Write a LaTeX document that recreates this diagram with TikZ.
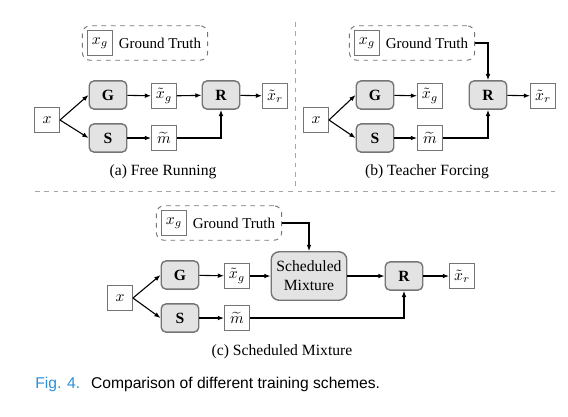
\documentclass[tikz,border=0pt]{standalone}
\usepackage{fontspec}
\setmainfont{Liberation Serif}
\setsansfont{Liberation Sans}
\usetikzlibrary{arrows.meta,positioning,fit}
\definecolor{figblue}{HTML}{2A8FD8}
\definecolor{boxgray}{HTML}{E3E3E3}
\definecolor{edgegray}{HTML}{757575}
\tikzset{
  net/.style={draw=edgegray, fill=boxgray, rounded corners=3pt, line width=0.9pt,
    minimum width=24pt, minimum height=18pt, font=\bfseries},
  var/.style={draw=edgegray, fill=white, line width=0.6pt, minimum width=16pt,
    minimum height=15.5pt, inner sep=1pt},
  gtext/.style={inner sep=1pt, font=\fontsize{9.6}{11}\selectfont},
  gtframe/.style={draw=edgegray, dashed, rounded corners=5pt, line width=0.6pt, inner sep=3pt},
  conn/.style={-{Latex[length=4pt,width=3pt]}, line width=0.7pt},
  divider/.style={draw=gray!70, dashed, line width=0.5pt}
}
\begin{document}
\begin{tikzpicture}[x=0.64pt, y=-0.64pt]
  \useasboundingbox (0,0) rectangle (568,416);
  % dividers
  \draw [divider] (35,191) -- (555,191);
  \draw [divider] (295,22) -- (295,189);

  % (a) free running
  \node[var] (xga) at (100,43) {$x_g$};
  \node[gtext, right=2.5pt of xga] (gta) {Ground Truth};
  \node[gtframe, fit=(xga)(gta)] (gtboxa) {};
  \node[var] (xa) at (47,120) {$x$};
  \node[net] (Ga) at (108,95) {G};
  \node[net] (Sa) at (108,138) {S};
  \node[var] (xgta) at (164,96) {$\tilde{x}_g$};
  \node[var] (mta) at (164,138) {$\widetilde{m}$};
  \node[net] (Ra) at (221,95) {R};
  \node[var] (xrta) at (275,96) {$\tilde{x}_r$};
  \draw [conn] (xa.east) -- (Ga.west);
  \draw [conn] (xa.east) -- (Sa.west);
  \draw [conn] (Ga) -- (xgta);
  \draw [conn] (Sa) -- (mta);
  \draw [conn] (xgta) -- (Ra);
  \draw [conn] (mta.east) -| (Ra.south);
  \draw [conn] (Ra) -- (xrta);
  \node (capa) at (163,172) {(a) Free Running};

  % (b) teacher forcing
  \node[var] (xgb) at (367,43) {$x_g$};
  \node[gtext, right=2.5pt of xgb] (gtb) {Ground Truth};
  \node[gtframe, fit=(xgb)(gtb)] (gtboxb) {};
  \node[var] (xb) at (316,120) {$x$};
  \node[net] (Gb) at (375,95) {G};
  \node[net] (Sb) at (375,138) {S};
  \node[var] (xgtb) at (430,96) {$\tilde{x}_g$};
  \node[var] (mtb) at (430,138) {$\widetilde{m}$};
  \node[net] (Rb) at (488,95) {R};
  \node[var] (xrtb) at (543,96) {$\tilde{x}_r$};
  \draw [conn] (xb.east) -- (Gb.west);
  \draw [conn] (xb.east) -- (Sb.west);
  \draw [conn] (Gb) -- (xgtb);
  \draw [conn] (Sb) -- (mtb);
  \draw [conn] (gtboxb.east) -| (Rb.north);
  \draw [conn] (mtb.east) -| (Rb.south);
  \draw [conn] (Rb) -- (xrtb);
  \node (capb) at (427,172) {(b) Teacher Forcing};

  % (c) scheduled mixture
  \node[var] (xgc) at (174,223) {$x_g$};
  \node[gtext, right=2.5pt of xgc] (gtc) {Ground Truth};
  \node[gtframe, fit=(xgc)(gtc)] (gtboxc) {};
  \node[var] (xc) at (120,298) {$x$};
  \node[net] (Gc) at (180,275) {G};
  \node[net] (Sc) at (180,318) {S};
  \node[var] (xgtc) at (237,276) {$\tilde{x}_g$};
  \node[var] (mtc) at (237,318) {$\widetilde{m}$};
  \node[net, font=\normalfont, minimum width=45pt, minimum height=31pt, align=center,
    rounded corners=5pt] (mix) at (309,276) {Scheduled\\Mixture};
  \node[net] (Rc) at (404,276) {R};
  \node[var] (xrtc) at (462,276) {$\tilde{x}_r$};
  \draw [conn] (xc.east) -- (Gc.west);
  \draw [conn] (xc.east) -- (Sc.west);
  \draw [conn] (Gc) -- (xgtc);
  \draw [conn] (Sc) -- (mtc);
  \draw [conn] (xgtc) -- (mix);
  \draw [conn] (gtboxc.east) -| (mix.north);
  \draw [conn] (mix) -- (Rc);
  \draw [conn] (mtc.east) -| (Rc.south);
  \draw [conn] (Rc) -- (xrtc);
  \node (capc) at (282,352) {(c) Scheduled Mixture};

  % caption
  \node[anchor=west, font=\sffamily, inner sep=0pt] (fig) at (35,384)
    {\textcolor{figblue}{Fig. 4.}\hspace{0.7em}Comparison of different training schemes.};
\end{tikzpicture}
\end{document}
